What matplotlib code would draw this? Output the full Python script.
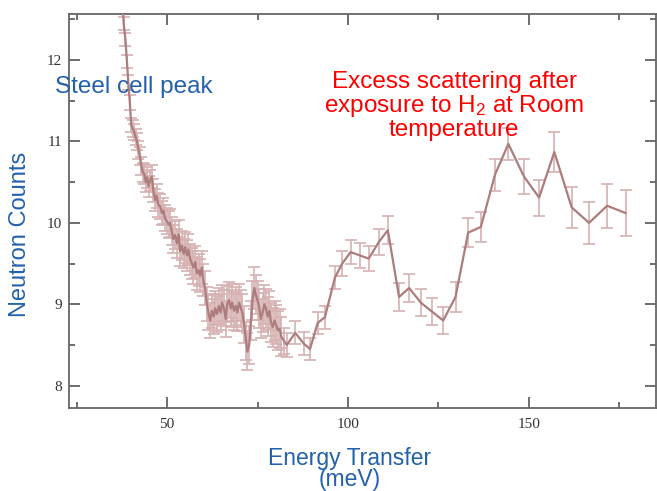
import matplotlib
matplotlib.use("Agg")
import matplotlib.pyplot as plt
from matplotlib.ticker import MultipleLocator

# ---- data ----
energy = [37.3, 38.0, 38.5, 38.9, 39.3, 39.7, 40.1, 40.5, 40.9, 41.3, 41.7, 42.1, 42.5, 42.9,
          43.3, 43.7, 44.1, 44.5, 44.9, 45.3, 45.8, 46.2, 46.7, 47.1, 47.6, 48.1, 48.6, 49.0,
          49.4, 49.9, 50.4, 50.8, 51.3, 51.7, 52.2, 52.7, 53.2, 53.6, 54.1, 54.6, 55.0, 55.5,
          55.9, 56.4, 56.9, 57.3, 57.8, 58.2, 58.7, 59.1, 59.6, 60.0, 60.5, 61.0, 61.4, 61.9,
          62.4, 62.9, 63.3, 63.8, 64.3, 64.8, 65.2, 65.7, 66.2, 66.6, 67.1, 67.6, 68.0, 68.5,
          69.0, 69.4, 69.9, 70.4, 70.8, 71.3, 71.8, 72.2, 72.7, 73.2, 73.6, 74.1, 74.5, 75.0,
          75.5, 75.9, 76.4, 76.9, 77.3, 77.8, 78.3, 78.7, 79.2, 79.7, 80.1, 80.6, 81.1, 81.6,
          82.3, 83.1, 85.4, 87.7, 89.5, 91.6, 93.6, 96.4, 98.4, 100.7, 103.3, 105.7, 108.6,
          111.0, 114.1, 116.9, 120.1, 123.2, 126.3, 129.7, 133.2, 136.7, 140.6, 144.3, 148.6,
          152.8, 157.0, 161.8, 166.6, 171.6, 176.7]
counts = [13.1, 12.45, 12.25, 11.98, 11.72, 11.48, 11.2, 11.16, 11.12, 11.05, 11.0, 10.9, 10.82, 10.7,
          10.62, 10.6, 10.5, 10.56, 10.45, 10.52, 10.57, 10.4, 10.28, 10.33, 10.22, 10.2, 10.12, 10.15,
          10.06, 10.02, 9.98, 10.0, 9.9, 9.8, 9.85, 9.75, 9.86, 9.65, 9.72, 9.62, 9.7, 9.6,
          9.67, 9.55, 9.5, 9.45, 9.52, 9.38, 9.42, 9.35, 9.45, 9.3, 9.2, 9.0, 8.9, 8.8,
          8.92, 8.85, 8.95, 8.88, 8.98, 8.9, 9.02, 8.95, 8.82, 9.0, 9.05, 8.95, 9.02, 8.92,
          8.98, 8.9, 9.02, 8.95, 8.9, 8.75, 8.55, 8.42, 8.5, 8.8, 9.05, 9.2, 9.12, 9.05,
          8.95, 8.82, 8.9, 9.0, 8.95, 8.85, 8.92, 8.78, 8.72, 8.8, 8.75, 8.68, 8.7, 8.6,
          8.55, 8.5, 8.65, 8.52, 8.45, 8.77, 8.84, 9.33, 9.5, 9.64, 9.6, 9.56, 9.77,
          9.91, 9.09, 9.2, 9.02, 8.91, 8.80, 9.09, 9.88, 9.95, 10.59, 10.97, 10.57,
          10.31, 10.87, 10.19, 10.0, 10.21, 10.12]
errors = [0.08, 0.08, 0.08, 0.08, 0.09, 0.09, 0.09, 0.1, 0.1, 0.1, 0.1, 0.11, 0.11, 0.11,
          0.12, 0.12, 0.12, 0.13, 0.13, 0.13, 0.14, 0.14, 0.14, 0.15, 0.15, 0.15, 0.15, 0.16,
          0.16, 0.16, 0.16, 0.17, 0.17, 0.17, 0.17, 0.18, 0.18, 0.18, 0.18, 0.18, 0.19, 0.19,
          0.19, 0.19, 0.19, 0.2, 0.2, 0.2, 0.2, 0.2, 0.2, 0.2, 0.21, 0.21, 0.21, 0.21,
          0.21, 0.21, 0.21, 0.22, 0.22, 0.22, 0.22, 0.22, 0.22, 0.22, 0.22, 0.23, 0.23, 0.23,
          0.23, 0.23, 0.23, 0.23, 0.23, 0.23, 0.23, 0.23, 0.23, 0.24, 0.24, 0.26, 0.24, 0.24,
          0.24, 0.24, 0.24, 0.24, 0.24, 0.24, 0.24, 0.24, 0.24, 0.24, 0.24, 0.24, 0.24, 0.24,
          0.16, 0.15, 0.14, 0.14, 0.14, 0.14, 0.14, 0.14, 0.15, 0.15, 0.15, 0.15, 0.16,
          0.17, 0.17, 0.17, 0.17, 0.17, 0.17, 0.18, 0.18, 0.18, 0.2, 0.2, 0.21,
          0.22, 0.25, 0.25, 0.26, 0.27, 0.28]

x_major = [50, 100, 150]
y_major = [8, 9, 10, 11, 12]

line_color = "#ad7c7c"
err_color = "#d6b1b1"
blue = "#2361ad"

plt.rcParams["mathtext.fontset"] = "custom"
plt.rcParams["mathtext.rm"] = "Liberation Sans"
plt.rcParams["mathtext.default"] = "regular"

fig = plt.figure(figsize=(6.57, 4.91), dpi=100)
ax = fig.add_axes([69 / 657, 1 - 408 / 491, (656 - 69) / 657, (408 - 14) / 491])

ax.errorbar(energy, counts, yerr=errors, fmt="none", ecolor=err_color,
            elinewidth=1.2, capsize=4, capthick=1.2, zorder=2)
ax.plot(energy, counts, color=line_color, lw=1.6, zorder=3)

ax.set_xlim(22.9, 185.1)
ax.set_ylim(7.726, 12.565)
ax.set_xticks(x_major)
ax.set_yticks(y_major)
ax.xaxis.set_minor_locator(MultipleLocator(25))
ax.yaxis.set_minor_locator(MultipleLocator(0.5))
ax.tick_params(which="both", direction="in", top=True, right=True, color="#555555", width=1.2)
ax.tick_params(which="major", length=8)
ax.tick_params(which="minor", length=4)
ax.tick_params(axis="x", which="major", pad=7)
ax.tick_params(axis="y", which="major", pad=5)
for lab in ax.get_xticklabels() + ax.get_yticklabels():
    lab.set_fontfamily("Liberation Serif")
    lab.set_fontsize(11)
    lab.set_color("#333333")
for sp in ax.spines.values():
    sp.set_color("#666666")
    sp.set_linewidth(1.3)

fig.text(20 / 657, 1 - 234 / 491, "Neutron Counts", rotation=90, ha="center", va="center",
         fontsize=17, color=blue, family="Liberation Sans")
fig.text(350 / 657, 1 - 469 / 491, "Energy Transfer\n(meV)", ha="center", va="center",
         fontsize=16.5, color=blue, family="Liberation Sans", linespacing=0.9)
fig.text(55 / 657, 1 - 87 / 491, "Steel cell peak", ha="left", va="center",
         fontsize=17.5, color=blue, family="Liberation Sans")
fig.text(454 / 657, 1 - 106 / 491,
         "Excess scattering after\nexposure to H$_2$ at Room\ntemperature",
         ha="center", va="center", multialignment="center",
         fontsize=17.5, color="#ff0000", family="Liberation Sans", linespacing=1.02)

fig.savefig("out.png", dpi=100)
